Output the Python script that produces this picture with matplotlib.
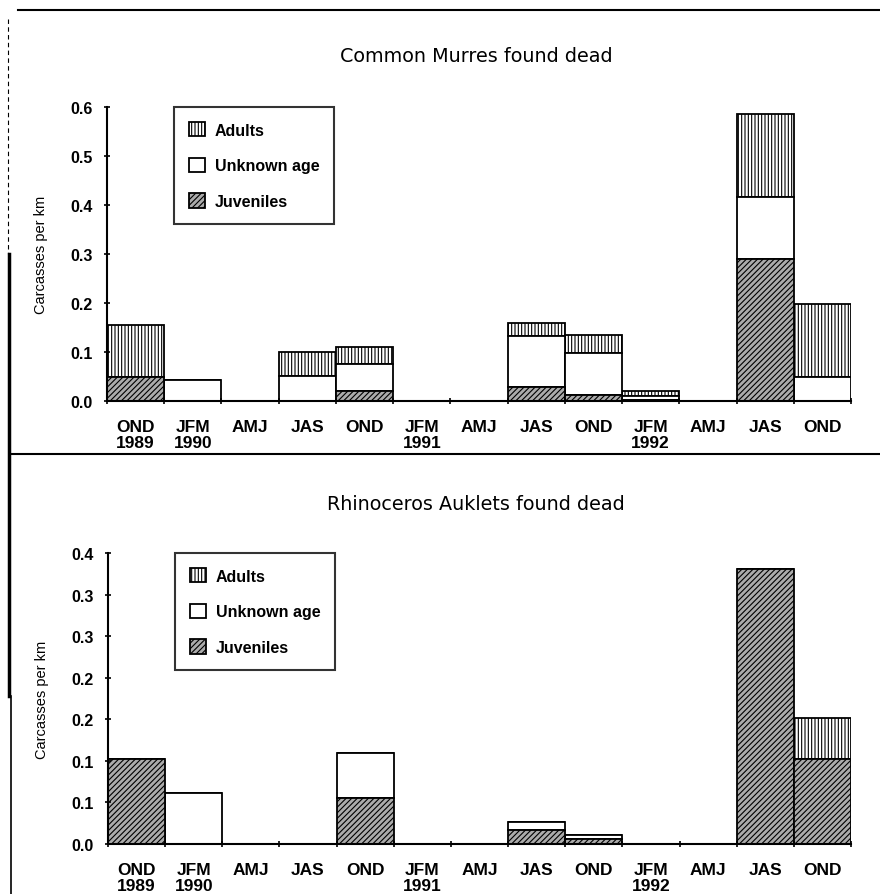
import numpy as np
import matplotlib.pyplot as plt
from matplotlib.lines import Line2D

plt.rcParams['font.family'] = ['Liberation Sans', 'DejaVu Sans']
plt.rcParams['hatch.linewidth'] = 0.8

seasons = ['OND\n1989', 'JFM\n1990', 'AMJ', 'JAS', 'OND', 'JFM\n1991', 'AMJ',
           'JAS', 'OND', 'JFM\n1992', 'AMJ', 'JAS', 'OND']

# Common Murres (carcasses per km)
murre_juv = [0.050, 0, 0, 0, 0.020, 0, 0, 0.029, 0.012, 0.003, 0, 0.290, 0]
murre_unk = [0, 0.043, 0, 0.052, 0.055, 0, 0, 0.104, 0.086, 0.007, 0, 0.126, 0.050]
murre_adu = [0.105, 0, 0, 0.048, 0.036, 0, 0, 0.026, 0.037, 0.010, 0, 0.170, 0.148]

# Rhinoceros Auklets (carcasses per km)
auk_juv = [0.102, 0, 0, 0, 0.055, 0, 0, 0.017, 0.006, 0, 0, 0.331, 0.102]
auk_unk = [0, 0.061, 0, 0, 0.054, 0, 0, 0.009, 0.005, 0, 0, 0, 0]
auk_adu = [0, 0, 0, 0, 0, 0, 0, 0, 0, 0, 0, 0, 0.050]

murre_ticks = [0.0, 0.1, 0.2, 0.3, 0.4, 0.5, 0.6]
murre_labels = ['0.0', '0.1', '0.2', '0.3', '0.4', '0.5', '0.6']
auk_ticks = [0.0, 0.05, 0.10, 0.15, 0.20, 0.25, 0.30, 0.35]
auk_labels = ['0.0', '0.1', '0.1', '0.2', '0.2', '0.3', '0.3', '0.4']

fig = plt.figure(figsize=(8.8, 8.95), dpi=100)
ax1 = fig.add_axes([0.1216, 0.5508, 0.8454, 0.3285])
ax2 = fig.add_axes([0.1227, 0.0559, 0.8443, 0.3251])


def draw_panel(ax, juv, unk, adu, ticks, labels, ymax, title, title_y):
    x = np.arange(len(seasons))
    juv = np.array(juv)
    unk = np.array(unk)
    adu = np.array(adu)
    common = dict(width=1.0, edgecolor='black', linewidth=1.3)
    b_adu = ax.bar(x, adu, bottom=juv + unk, color='white', hatch='|||||', **common)
    b_unk = ax.bar(x, unk, bottom=juv, color='white', **common)
    b_juv = ax.bar(x, juv, color='#ababab', hatch='//////', **common)

    ax.set_xlim(-0.5, len(seasons) - 0.5)
    ax.set_ylim(0, ymax)
    ax.set_yticks(ticks)
    ax.set_yticklabels(labels, fontsize=11.5, fontweight='bold')
    ax.set_xticks(x)
    ax.set_xticklabels(seasons, fontsize=12.5, fontweight='bold', linespacing=1.08)
    ax.set_xticks(np.arange(-0.5, len(seasons)), minor=True)
    ax.tick_params(axis='x', which='major', length=0, pad=13)
    ax.tick_params(axis='x', which='minor', length=4, width=1.2, direction='inout')
    ax.tick_params(axis='y', length=5, width=1.2, direction='inout', pad=8)
    for s in ['top', 'right']:
        ax.spines[s].set_visible(False)
    for s in ['left', 'bottom']:
        ax.spines[s].set_linewidth(1.5)
    ax.set_ylabel('Carcasses per km', fontsize=10.5, labelpad=16)

    leg = ax.legend([b_adu, b_unk, b_juv], ['Adults', 'Unknown age', 'Juveniles'],
                    loc='upper left', bbox_to_anchor=(0.09, 1.0), borderaxespad=0,
                    frameon=True, fancybox=False, edgecolor='black',
                    prop={'size': 11.5, 'weight': 'bold'},
                    handlelength=1.0, handleheight=1.0, handletextpad=0.6,
                    labelspacing=1.25, borderpad=0.95)
    leg.get_frame().set_linewidth(1.5)
    fig.text(0.541, title_y, title, ha='center', va='center', fontsize=13.8,
             family='DejaVu Sans')


draw_panel(ax1, murre_juv, murre_unk, murre_adu, murre_ticks, murre_labels, 0.6,
           'Common Murres found dead', 1 - 57 / 895)
draw_panel(ax2, auk_juv, auk_unk, auk_adu, auk_ticks, auk_labels, 0.35,
           'Rhinoceros Auklets found dead', 1 - 505 / 895)

# page rules from the scanned figure
fig.add_artist(Line2D([0.02, 1.0], [1 - 11 / 895, 1 - 11 / 895], color='black', lw=1.5))
fig.add_artist(Line2D([0.012, 1.0], [1 - 455 / 895, 1 - 455 / 895], color='black', lw=1.5))
fig.add_artist(Line2D([0.009, 0.009], [1 - 20 / 895, 1 - 255 / 895], color='black',
                      lw=0.8, ls=(0, (4, 3))))
fig.add_artist(Line2D([0.010, 0.010], [1 - 255 / 895, 1 - 697 / 895], color='black', lw=2.5))
fig.add_artist(Line2D([0.013, 0.013], [1 - 697 / 895, 0.0], color='black', lw=1.2))

fig.savefig('out.png', dpi=100)
